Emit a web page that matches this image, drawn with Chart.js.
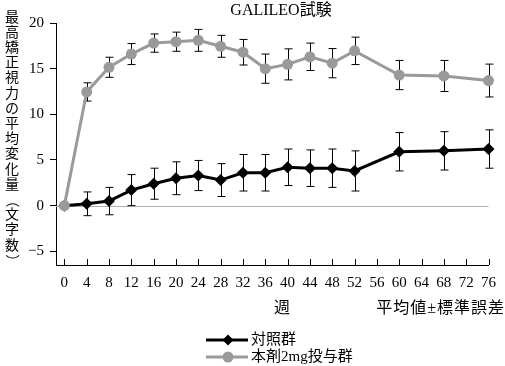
<!DOCTYPE html>
<html><head><meta charset="utf-8">
<script src="https://cdn.jsdelivr.net/npm/chart.js@4"></script>
<style>html,body{margin:0;padding:0;background:#fff}canvas{display:block}</style>
</head><body>
<canvas id="c" width="505" height="366"></canvas>
<script>
const weeks = [0,4,8,12,16,20,24,28,32,36,40,44,48,52,60,68,76];
const xTicks = [0,4,8,12,16,20,24,28,32,36,40,44,48,52,56,60,64,68,72,76];
const yTicks = [-5,0,5,10,15,20];
const ctrlMean = [0,0.2,0.5,1.7,2.4,3.0,3.3,2.8,3.6,3.6,4.2,4.1,4.1,3.8,5.9,6.0,6.2];
const ctrlErr  = [0,1.3,1.5,1.7,1.7,1.8,1.65,1.8,2.0,2.0,2.0,2.0,2.1,2.2,2.1,2.1,2.1];
const drugMean = [0,12.45,15.15,16.6,17.8,17.95,18.1,17.45,16.8,15.0,15.47,16.3,15.6,16.95,14.3,14.2,13.7];
const drugErr  = [0,1.0,1.1,1.15,1.0,1.05,1.2,1.2,1.4,1.6,1.7,1.5,1.6,1.5,1.6,1.7,1.8];
const titleText = 'GALILEO試験';
const yTitle = '最高矯正視力の平均変化量（文字数）';
const xTitle = '週';
const noteText = '平均値±標準誤差';
const ctrlLabel = '対照群';
const drugLabel = '本剤2mg投与群';

const FONT = "'Liberation Serif','DejaVu Serif','Noto Sans CJK JP',serif";
const GRAY = '#9a9a9a';

const decor = {
  id: 'decor',
  beforeDatasetsDraw(chart) {
    const {ctx, chartArea: a, scales: {x, y}} = chart;
    ctx.save();
    ctx.strokeStyle = '#b0b0b0'; ctx.lineWidth = 1;
    const y0 = Math.round(y.getPixelForValue(0)) + 0.5;
    ctx.beginPath(); ctx.moveTo(a.left, y0); ctx.lineTo(a.right, y0); ctx.stroke();
    ctx.strokeStyle = '#000';
    xTicks.forEach(v => {
      const px = Math.round(x.getPixelForValue(v)) + 0.5;
      ctx.beginPath(); ctx.moveTo(px, a.bottom); ctx.lineTo(px, a.bottom - 6); ctx.stroke();
    });
    const drawErr = (means, errs) => {
      means.forEach((m, i) => {
        const e = errs[i]; if (!e) return;
        const px = Math.round(x.getPixelForValue(weeks[i])) + 0.5;
        const t = y.getPixelForValue(m + e), b = y.getPixelForValue(m - e);
        ctx.beginPath();
        ctx.moveTo(px, t); ctx.lineTo(px, b);
        ctx.moveTo(px - 4, t); ctx.lineTo(px + 4, t);
        ctx.moveTo(px - 4, b); ctx.lineTo(px + 4, b);
        ctx.stroke();
      });
    };
    drawErr(ctrlMean, ctrlErr);
    drawErr(drugMean, drugErr);
    ctx.restore();
  },
  afterDraw(chart) {
    const {ctx} = chart;
    ctx.save();
    ctx.fillStyle = '#000';
    ctx.textBaseline = 'middle';
    ctx.font = "16px " + FONT;
    ctx.textAlign = 'center';
    ctx.fillText(titleText, 281, 11);
    // vertical y title (upright characters, brackets rotated)
    ctx.font = "14px " + FONT;
    [...yTitle].forEach((ch, i) => {
      const cy = 18 + i * 15.2;
      if (ch === '（' || ch === '）') {
        ctx.save(); ctx.translate(12, cy); ctx.rotate(Math.PI / 2);
        ctx.fillText(ch, 0, 0); ctx.restore();
      } else {
        ctx.fillText(ch, 12, cy);
      }
    });
    ctx.font = "16px " + FONT;
    ctx.fillText(xTitle, 282, 309);
    ctx.textAlign = 'right';
    ctx.letterSpacing = '1px';
    ctx.fillText(noteText, 505, 309);
    ctx.letterSpacing = '0px';
    const rows = [
      {label: ctrlLabel, color: '#000', style: 'diamond', y: 340},
      {label: drugLabel, color: GRAY, style: 'circle', y: 357}
    ];
    ctx.textAlign = 'left';
    ctx.font = "15px " + FONT;
    rows.forEach(r => {
      ctx.strokeStyle = r.color; ctx.fillStyle = r.color; ctx.lineWidth = 3;
      ctx.beginPath(); ctx.moveTo(206, r.y); ctx.lineTo(248, r.y); ctx.stroke();
      ctx.beginPath();
      if (r.style === 'diamond') {
        ctx.moveTo(228, r.y - 5.5); ctx.lineTo(233.5, r.y); ctx.lineTo(228, r.y + 5.5); ctx.lineTo(222.5, r.y);
        ctx.closePath();
      } else {
        ctx.arc(228, r.y, 5.5, 0, Math.PI * 2);
      }
      ctx.fill();
      ctx.fillStyle = '#000';
      ctx.fillText(r.label, 251, r.y);
    });
    ctx.restore();
  }
};

new Chart(document.getElementById('c'), {
  type: 'line',
  data: {
    datasets: [
      {label: drugLabel, data: weeks.map((w, i) => ({x: w, y: drugMean[i]})),
       borderColor: GRAY, backgroundColor: GRAY, borderWidth: 3,
       pointStyle: 'circle', pointRadius: 5.5, pointBorderWidth: 0, order: 0, clip: false},
      {label: ctrlLabel, data: weeks.map((w, i) => ({x: w, y: ctrlMean[i]})),
       borderColor: '#000', backgroundColor: '#000', borderWidth: 3,
       pointStyle: 'rectRot', pointRadius: 6, pointBorderWidth: 0, order: 1, clip: false}
    ]
  },
  options: {
    responsive: false, animation: false, devicePixelRatio: 1,
    layout: {padding: {left: 0, right: 8, top: 23, bottom: 0}},
    plugins: {legend: {display: false}, tooltip: {enabled: false}},
    scales: {
      x: {
        type: 'linear', min: -1.5, max: 76,
        afterBuildTicks: s => { s.ticks = xTicks.map(v => ({value: v})); },
        afterFit: s => { s.height = 101; },
        grid: {display: false, drawTicks: false},
        border: {display: true, color: '#000', width: 1},
        ticks: {autoSkip: false, maxRotation: 0, padding: 9, color: '#000', font: {family: FONT, size: 15}}
      },
      y: {
        min: -6.5, max: 20,
        afterBuildTicks: s => { s.ticks = yTicks.map(v => ({value: v})); },
        afterFit: s => { s.width = 56; },
        grid: {drawOnChartArea: false, drawTicks: true, tickLength: 6, color: '#000'},
        border: {display: true, color: '#000', width: 1},
        ticks: {padding: 6, color: '#000', font: {family: FONT, size: 15},
                callback: v => String(v).replace('-', '−')}
      }
    }
  },
  plugins: [decor]
});
</script>
</body></html>
